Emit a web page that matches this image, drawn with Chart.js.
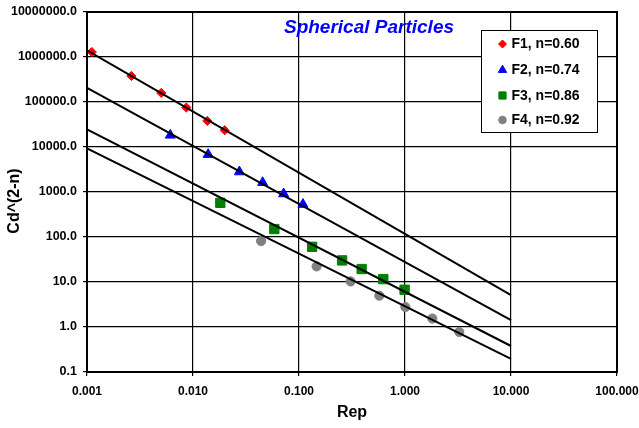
<!DOCTYPE html>
<html>
<head>
<meta charset="utf-8">
<script src="https://cdn.jsdelivr.net/npm/chart.js@4.4.1/dist/chart.umd.min.js"></script>
<style>
  html, body { margin: 0; padding: 0; background: #fff; }
  #wrap { position: relative; width: 639px; height: 428px; }
</style>
</head>
<body>
<div id="wrap"><canvas id="c" width="639" height="428"></canvas></div>
<script>
// ---- data ----
const chartTitle = 'Spherical Particles';
const xTitle = 'Rep';
const yTitle = 'Cd^(2-n)';
const xTicks = [0.001, 0.01, 0.1, 1, 10, 100];
const yTicks = [0.1, 1, 10, 100, 1000, 10000, 100000, 1000000, 10000000];

const seriesNames = ['F1, n=0.60', 'F2, n=0.74', 'F3, n=0.86', 'F4, n=0.92'];
const seriesColors = ['#FF0000', '#0000FF', '#008000', '#808080'];
const seriesShapes = ['rectRot', 'triangle', 'rect', 'circle'];

const f1Re = [0.00111, 0.00262, 0.00502, 0.00865, 0.01365, 0.0199];
const f1Cd = [1290000, 379000, 159000, 75400, 38000, 23600];
const f2Re = [0.00611, 0.0139, 0.0274, 0.0454, 0.0716, 0.109];
const f2Cd = [18300, 6820, 2800, 1620, 910, 530];
const f3Re = [0.0181, 0.0585, 0.133, 0.255, 0.390, 0.624, 0.991];
const f3Cd = [574, 150, 60.5, 30.2, 19.4, 11.6, 6.73];
const f4Re = [0.0439, 0.1466, 0.307, 0.573, 1.007, 1.81, 3.25];
const f4Cd = [81.1, 22.2, 10.3, 4.95, 2.78, 1.54, 0.774];

// fitted lines (endpoints)
const lineRe = [0.001, 10];
const line1Cd = [1410000, 5.13];
const line2Cd = [205000, 1.43];
const line3Cd = [24500, 0.378];
const line4Cd = [9270, 0.195];

// ---- build datasets ----
const pts = (xs, ys) => xs.map((x, i) => ({ x: x, y: ys[i] }));
const markerData = [pts(f1Re, f1Cd), pts(f2Re, f2Cd), pts(f3Re, f3Cd), pts(f4Re, f4Cd)];
const lineData = [pts(lineRe, line1Cd), pts(lineRe, line2Cd), pts(lineRe, line3Cd), pts(lineRe, line4Cd)];
const markerRadius = [4.6, 5.8, 6.6, 4.6];

const datasets = [];
lineData.forEach((d, i) => {
  datasets.push({
    type: 'line', label: 'fit' + (i + 1), data: d,
    borderColor: '#000', borderWidth: 2, pointRadius: 0, fill: false, order: 0
  });
});
markerData.forEach((d, i) => {
  datasets.push({
    type: 'scatter', label: seriesNames[i], data: d,
    pointStyle: seriesShapes[i], pointRadius: markerRadius[i],
    backgroundColor: seriesColors[i], borderColor: seriesColors[i],
    borderWidth: 1, showLine: false, order: 1
  });
});

const FONT = 'Arial, "Liberation Sans", sans-serif';

function drawShape(ctx, shape, x, y, r, color) {
  ctx.save();
  ctx.fillStyle = color; ctx.strokeStyle = color; ctx.lineWidth = 1;
  ctx.beginPath();
  if (shape === 'rectRot') {
    ctx.moveTo(x - r, y); ctx.lineTo(x, y - r); ctx.lineTo(x + r, y); ctx.lineTo(x, y + r); ctx.closePath();
  } else if (shape === 'triangle') {
    ctx.moveTo(x, y - r); ctx.lineTo(x + r * 0.866, y + r * 0.5); ctx.lineTo(x - r * 0.866, y + r * 0.5); ctx.closePath();
  } else if (shape === 'rect') {
    ctx.rect(x - r, y - r, 2 * r, 2 * r);
  } else {
    ctx.arc(x, y, r, 0, Math.PI * 2);
  }
  ctx.fill(); ctx.stroke();
  ctx.restore();
}

const decorPlugin = {
  id: 'decor',
  afterDraw(chart) {
    const ctx = chart.ctx;
    const a = chart.chartArea;
    // plot frame
    ctx.save();
    ctx.strokeStyle = '#000'; ctx.lineWidth = 2;
    ctx.strokeRect(a.left, a.top, a.right - a.left, a.bottom - a.top);
    ctx.restore();
    // y axis title
    ctx.save();
    ctx.translate(15, 201);
    ctx.rotate(-Math.PI / 2);
    ctx.font = 'bold 16px ' + FONT;
    ctx.fillStyle = '#000'; ctx.textAlign = 'center'; ctx.textBaseline = 'middle';
    ctx.fillText(yTitle, 0, 0);
    ctx.restore();
    // title inside plot
    ctx.save();
    ctx.font = 'italic bold 19px ' + FONT;
    ctx.fillStyle = '#0000FF';
    ctx.textAlign = 'center'; ctx.textBaseline = 'alphabetic';
    ctx.fillText(chartTitle, 369, 33);
    ctx.restore();
    // legend box
    const bx = 481, by = 30, bw = 116, bh = 102;
    ctx.save();
    ctx.fillStyle = '#fff'; ctx.fillRect(bx, by, bw, bh);
    ctx.strokeStyle = '#000'; ctx.lineWidth = 1;
    ctx.strokeRect(bx + 0.5, by + 0.5, bw, bh);
    const rowY = [44, 70, 95.5, 120];
    const legR = [4, 4.8, 3.6, 3.8];
    ctx.font = 'bold 14px ' + FONT;
    ctx.fillStyle = '#000'; ctx.textAlign = 'left'; ctx.textBaseline = 'middle';
    seriesNames.forEach((n, i) => {
      drawShape(ctx, seriesShapes[i], 502.5, rowY[i], legR[i], seriesColors[i]);
      ctx.fillStyle = '#000';
      ctx.fillText(n, 511.5, rowY[i] + 0.5);
    });
    ctx.restore();
  }
};

new Chart(document.getElementById('c'), {
  data: { datasets: datasets },
  options: {
    responsive: false,
    animation: false,
    devicePixelRatio: 1,
    layout: { padding: { top: 12, right: 22, left: 0, bottom: 0 } },
    plugins: { legend: { display: false }, tooltip: { enabled: false }, title: { display: false } },
    scales: {
      x: {
        type: 'logarithmic', min: 0.001, max: 100,
        afterBuildTicks: s => { s.ticks = xTicks.map(v => ({ value: v })); },
        afterFit: s => { s.height = 56; s.paddingLeft = 0; s.paddingRight = 0; },
        ticks: {
          color: '#000', font: { family: FONT, size: 12, weight: 'bold' }, padding: 8,
          maxRotation: 0, autoSkip: false,
          callback: v => Number(v).toFixed(3)
        },
        grid: { color: '#000', lineWidth: 1.2, tickLength: 4, drawTicks: true },
        border: { display: true, color: '#000', width: 2 },
        title: { display: true, text: xTitle, color: '#000', font: { family: FONT, size: 16, weight: 'bold' }, padding: { top: 2, bottom: 6 } }
      },
      y: {
        type: 'logarithmic', min: 0.1, max: 10000000,
        afterBuildTicks: s => { s.ticks = yTicks.map(v => ({ value: v })); },
        afterFit: s => { s.width = 87; s.paddingTop = 0; s.paddingBottom = 0; },
        ticks: {
          color: '#000', font: { family: FONT, size: 12.5, weight: 'bold' }, padding: 6,
          autoSkip: false,
          callback: v => Number(v).toFixed(1)
        },
        grid: { color: '#000', lineWidth: 1.2, tickLength: 4, drawTicks: true },
        border: { display: true, color: '#000', width: 2 },
        title: { display: false }
      }
    }
  },
  plugins: [decorPlugin]
});
</script>
</body>
</html>
